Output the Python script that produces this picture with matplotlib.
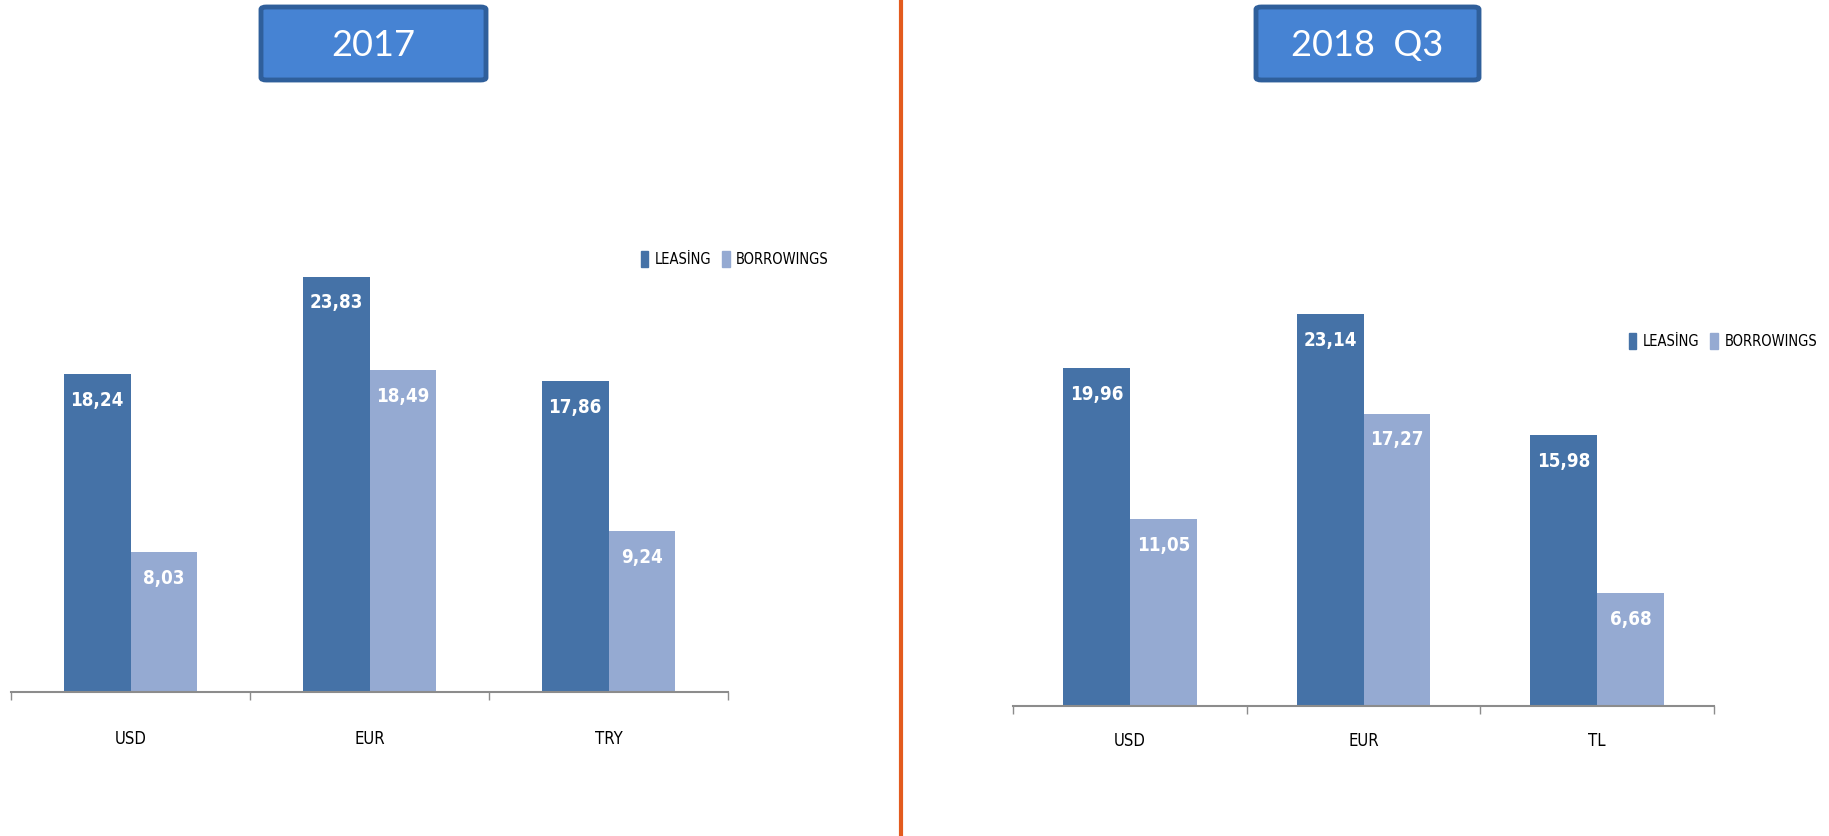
import matplotlib
matplotlib.use("Agg")
import matplotlib.pyplot as plt
import numpy as np
from matplotlib import font_manager
from matplotlib.patches import FancyBboxPatch, Patch
from matplotlib.lines import Line2D

# data for both panels
cats_2017 = ["USD", "EUR", "TRY"]
leasing_2017 = [18.24, 23.83, 17.86]
borrow_2017 = [8.03, 18.49, 9.24]

cats_2018 = ["USD", "EUR", "TL"]
leasing_2018 = [19.96, 23.14, 15.98]
borrow_2018 = [11.05, 17.27, 6.68]

series_names = ["LEASİNG", "BORROWINGS"]
titles = ["2017", "2018  Q3"]

c_lease = "#4572A7"
c_borrow = "#95AAD2"

# look for any condensed face; otherwise Liberation Sans (narrower than DejaVu)
cond = [f for f in font_manager.fontManager.ttflist
        if f.stretch in ("condensed", "semi-condensed", "extra-condensed")
        or "Narrow" in f.name or "Condensed" in f.name]
if cond:
    narrow = [cond[0].name, "DejaVu Sans"]
    stretch = "condensed"
    k = 1.0
else:
    narrow = ["Liberation Sans", "DejaVu Sans"]
    stretch = "normal"
    k = 0.85

W, H = 1829, 836
fig = plt.figure(figsize=(W / 100, H / 100), dpi=100)
fig.patch.set_facecolor("white")


def px(x0, y0, w, h):
    # pixel box (top-left origin) -> figure fraction
    return [x0 / W, 1 - (y0 + h) / H, w / W, h / H]


def panel(rect, cats, lease, borrow, bw, label_pad, leg_xy):
    ax = fig.add_axes(rect)
    x = np.arange(len(cats))
    b1 = ax.bar(x - bw / 2, lease, bw, color=c_lease, label=series_names[0], zorder=2)
    b2 = ax.bar(x + bw / 2, borrow, bw, color=c_borrow, label=series_names[1], zorder=2)
    for bars in (b1, b2):
        for r in bars:
            v = r.get_height()
            ax.annotate(f"{v:.2f}".replace(".", ","),
                        (r.get_x() + r.get_width() / 2, v),
                        xytext=(0, -19), textcoords="offset points",
                        ha="center", va="center", color="white",
                        fontsize=13.5 * k, fontweight="bold", family=narrow,
                        fontstretch=stretch)
    ax.set_xlim(-0.5, len(cats) - 0.5)
    ax.set_ylim(0, 30)
    for s in ["top", "right", "left"]:
        ax.spines[s].set_visible(False)
    ax.spines["bottom"].set_color("#8c8c8c")
    ax.spines["bottom"].set_linewidth(1.5)
    ax.set_yticks([])
    ax.set_xticks(x)
    ax.set_xticklabels(cats, family=narrow, fontsize=12 * k, fontstretch=stretch)
    ax.tick_params(axis="x", which="major", length=0, pad=label_pad)
    ax.set_xticks(np.arange(-0.5, len(cats)), minor=True)
    ax.tick_params(axis="x", which="minor", length=6, width=1, color="#8c8c8c", direction="out")
    ax.set_facecolor("none")
    handles = [Patch(color=c_lease), Patch(color=c_borrow)]
    ax.legend(handles, series_names, loc="center right",
              bbox_to_anchor=leg_xy, bbox_transform=fig.transFigure,
              ncol=2, frameon=False,
              prop={"family": narrow, "size": 10.5 * k, "stretch": stretch},
              handlelength=0.5, handleheight=1.3, handletextpad=0.45,
              columnspacing=0.75, borderpad=0, borderaxespad=0)
    return ax


# left panel: 2017
panel(px(11, 169, 717, 523), cats_2017, leasing_2017, borrow_2017,
      0.28, 27, (829 / W, 1 - 259 / H))
# right panel: 2018 Q3
panel(px(1013, 198, 701, 508), cats_2018, leasing_2018, borrow_2018,
      0.286, 19, (1817 / W, 1 - 341 / H))

# title boxes
for (x0, x1), t in zip([(261, 486), (1256, 1479)], titles):
    r = px(x0, 7, x1 - x0, 73)
    box = FancyBboxPatch((r[0], r[1]), r[2], r[3],
                         boxstyle="round,pad=0,rounding_size=0.003",
                         transform=fig.transFigure, facecolor="#4683D3",
                         edgecolor="#2F5F9B", linewidth=3.5)
    fig.patches.append(box)
    fig.text(r[0] + r[2] / 2, r[1] + r[3] / 2 - 0.002, t, ha="center", va="center",
             color="white", fontsize=26, family="Lato")

# orange divider
fig.add_artist(Line2D([901 / W, 901 / W], [0, 1], transform=fig.transFigure,
                      color="#E35B1E", linewidth=3))

fig.savefig("out.png", dpi=100)
